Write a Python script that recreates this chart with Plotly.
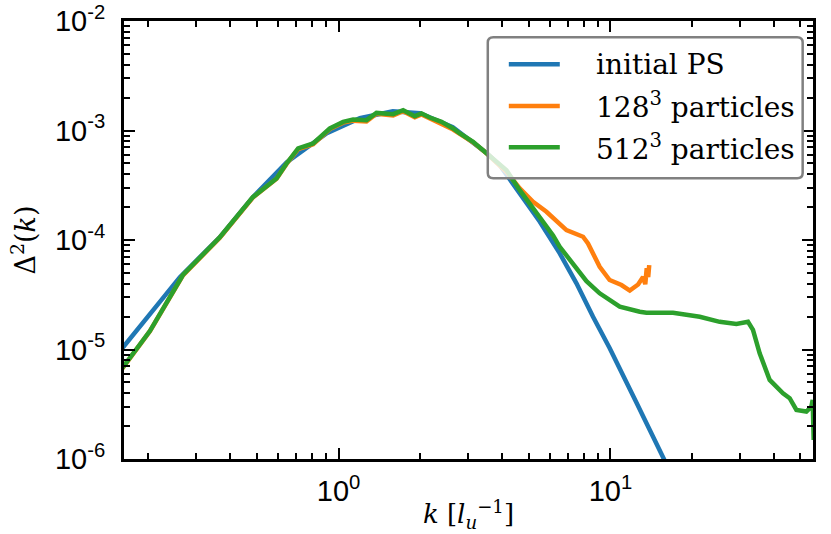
import plotly.graph_objects as go

# wavenumber k [1/l_u] and dimensionless power Delta^2(k)
k_init = [0.150, 0.1624, 0.2024, 0.2609, 0.3661, 0.4841, 0.6455, 0.9057, 1.198, 1.584,
          1.990, 2.632, 3.510, 3.917, 4.64, 5.50, 6.51, 7.50, 8.63, 9.94,
          12.46, 15.61, 19.56]
d2_init = [8.4e-6, 1.076e-5, 2.11e-5, 4.58e-5, 1.062e-4, 2.46e-4, 5.14e-4, 9.45e-4, 1.294e-3, 1.50e-3,
           1.439e-3, 1.074e-3, 6.21e-4, 4.82e-4, 2.66e-4, 1.466e-4, 7.55e-5, 4.02e-5, 1.99e-5, 1.026e-5,
           3.28e-6, 1.05e-6, 3.29e-7]

k_128 = [0.1505, 0.1624, 0.2024, 0.2677, 0.366, 0.484, 0.5916, 0.644, 0.7102, 0.8066,
         0.929, 1.040, 1.132, 1.267, 1.379, 1.588, 1.728, 1.908, 2.019, 2.166,
         2.391, 2.638, 2.793, 3.125, 3.501, 4.147, 4.64, 5.193, 5.818, 6.89,
         7.93, 8.27, 9.13, 9.93, 10.98, 11.78, 12.64, 13.18, 13.43, 13.60,
         13.77, 13.89]
d2_128 = [5.5e-6, 7.0e-6, 1.47e-5, 4.75e-5, 1.05e-4, 2.44e-4, 3.62e-4, 4.95e-4, 6.75e-4, 7.5e-4,
          1.03e-3, 1.18e-3, 1.23e-3, 1.21e-3, 1.42e-3, 1.37e-3, 1.50e-3, 1.32e-3, 1.40e-3, 1.29e-3,
          1.17e-3, 1.02e-3, 9.3e-4, 7.8e-4, 6.2e-4, 4.19e-4, 2.96e-4, 2.23e-4, 1.81e-4, 1.23e-4,
          1.07e-4, 9.3e-5, 5.69e-5, 4.31e-5, 3.88e-5, 3.45e-5, 3.92e-5, 4.59e-5, 3.95e-5, 5.54e-5,
          4.59e-5, 5.90e-5]

k_512 = [0.1505, 0.1624, 0.2024, 0.2677, 0.366, 0.484, 0.5916, 0.644, 0.7102, 0.8066,
         0.929, 1.040, 1.132, 1.267, 1.379, 1.588, 1.728, 1.908, 2.019, 2.166,
         2.391, 2.638, 2.793, 3.125, 3.501, 4.147, 4.64, 5.345, 6.152, 6.51,
         7.087, 7.71, 8.164, 9.13, 10.82, 12.82, 13.57, 16.99, 21.30, 25.23,
         29.05, 32.06, 33.44, 35.39, 38.52, 43.12, 45.63, 48.30, 52.55, 54.83,
         55.43, 55.91]
d2_512 = [5.5e-6, 7.04e-6, 1.475e-5, 4.79e-5, 1.06e-4, 2.46e-4, 3.65e-4, 5.0e-4, 6.85e-4, 7.61e-4,
          1.043e-3, 1.198e-3, 1.259e-3, 1.242e-3, 1.448e-3, 1.409e-3, 1.532e-3, 1.351e-3, 1.429e-3, 1.314e-3,
          1.198e-3, 1.043e-3, 9.39e-4, 7.87e-4, 6.17e-4, 4.34e-4, 2.85e-4, 1.75e-4, 1.10e-4, 8.67e-5,
          6.6e-5, 4.96e-5, 4.2e-5, 3.26e-5, 2.46e-5, 2.21e-5, 2.17e-5, 2.17e-5, 1.99e-5, 1.79e-5,
          1.71e-5, 1.79e-5, 1.51e-5, 9.23e-6, 5.27e-6, 3.98e-6, 3.59e-6, 2.81e-6, 2.71e-6, 3.01e-6,
          3.46e-6, 1.49e-6]

series_names = ["initial PS", "128<sup>3</sup> particles", "512<sup>3</sup> particles"]
series_colors = ["#1f77b4", "#ff7f0e", "#2ca02c"]

y_ticks = [1e-6, 1e-5, 1e-4, 1e-3, 1e-2]
y_ticktext = ["10<sup>-6</sup>", "10<sup>-5</sup>", "10<sup>-4</sup>", "10<sup>-3</sup>", "10<sup>-2</sup>"]
x_ticks = [1, 10]
x_ticktext = ["10<sup>0</sup>", "10<sup>1</sup>"]

y_minor = [m * 10.0 ** e for e in range(-6, -2) for m in range(2, 10)]
x_minor = [m * 10.0 ** e for e in range(-1, 2) for m in range(2, 10)]

fig = go.Figure()
for kk, dd, nm, col in zip([k_init, k_128, k_512], [d2_init, d2_128, d2_512],
                           series_names, series_colors):
    fig.add_trace(go.Scatter(x=kk, y=dd, mode="lines", name=nm,
                             line=dict(color=col, width=4.5), showlegend=False))

axis_common = dict(
    showline=True, linewidth=3, linecolor="black", mirror="allticks",
    ticks="inside", ticklen=11, tickwidth=2, tickcolor="black",
    showgrid=False, zeroline=False, automargin=False,
    tickfont=dict(family="Liberation Sans", size=29, color="black"),
    minor=dict(ticks="inside", ticklen=6, tickwidth=1.5, tickcolor="black", showgrid=False),
)

fig.update_xaxes(type="log", range=[-0.789, 1.745], tickvals=x_ticks, ticktext=x_ticktext,
                 minor_tickvals=x_minor, ticklabelstandoff=4,
                 title=dict(text="<i>k</i> [<i>l</i><sub><i>u</i></sub><sup>−1</sup>]",
                            font=dict(family="DejaVu Serif", size=26, color="black"), standoff=0),
                 **axis_common)
fig.update_yaxes(type="log", range=[-6, -2], tickvals=y_ticks, ticktext=y_ticktext,
                 minor_tickvals=y_minor, ticklabelstandoff=10,
                 title=dict(text="Δ<sup>2</sup>(<i>k</i>)",
                            font=dict(family="DejaVu Serif", size=27, color="black"), standoff=12),
                 **axis_common)

# legend box drawn by hand (rounded, translucent white, grey edge)
x0, x1, y0, y1 = 0.528, 0.985, 0.641, 0.963
rx, ry = 0.008, 0.012
box = (f"M {x0+rx},{y0} L {x1-rx},{y0} Q {x1},{y0} {x1},{y0+ry} L {x1},{y1-ry} "
       f"Q {x1},{y1} {x1-rx},{y1} L {x0+rx},{y1} Q {x0},{y1} {x0},{y1-ry} "
       f"L {x0},{y0+ry} Q {x0},{y0} {x0+rx},{y0} Z")
shapes = [dict(type="path", path=box, xref="paper", yref="paper", layer="above",
               fillcolor="rgba(255,255,255,0.8)", line=dict(color="rgb(128,128,128)", width=2.5))]
annotations = []
rows = [0.901, 0.806, 0.712]
for nm, col, yy in zip(series_names, series_colors, rows):
    shapes.append(dict(type="line", xref="paper", yref="paper", x0=0.5585, x1=0.6325, y0=yy, y1=yy,
                       layer="above", line=dict(color=col, width=4.5)))
    annotations.append(dict(xref="paper", yref="paper", x=0.682, y=yy, text=nm, showarrow=False,
                            xanchor="left", yanchor="middle",
                            font=dict(family="DejaVu Serif", size=28, color="black")))

fig.update_layout(
    width=831, height=534,
    margin=dict(l=124, r=18, t=21, b=75),
    plot_bgcolor="white", paper_bgcolor="white",
    shapes=shapes, annotations=annotations,
    showlegend=False,
)

# the page body has a default 8px margin; drop it so the figure fills the window
fig.write_html("out.html", config={"displayModeBar": False},
               post_script="document.body.style.margin='0';")
